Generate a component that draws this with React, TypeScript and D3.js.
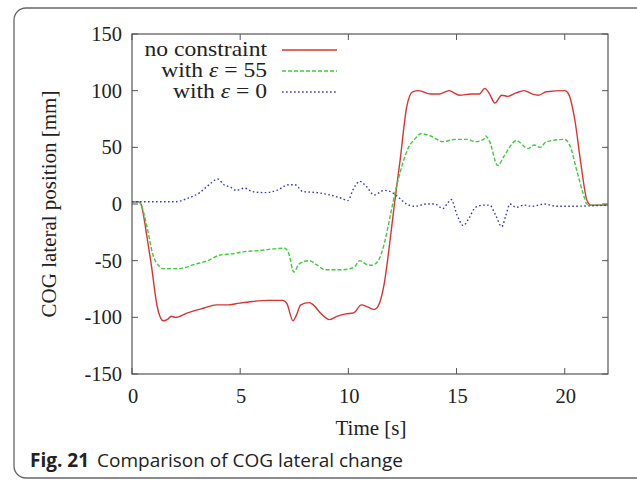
import React from "react";
import * as d3 from "d3";

const xTicks = [0, 5, 10, 15, 20];
const yTicks = [-150, -100, -50, 0, 50, 100, 150];

const seriesNames = ["no constraint", "with \u03b5 = 55", "with \u03b5 = 0"];

const redT = [0, 0.3, 0.41, 0.7, 0.88, 1.16, 1.44, 1.63, 1.82, 2.0, 2.57, 3.3, 3.9, 4.44, 4.8, 5.57, 6.3, 6.97, 7.16, 7.44, 7.6, 7.8, 8.19, 8.38, 8.75, 9.13, 9.5, 9.88, 10.25, 10.6, 10.9, 11.2, 11.38, 11.66, 11.94, 12.13, 12.4, 12.69, 12.97, 13.25, 13.8, 14.19, 14.65, 15.12, 15.69, 16.06, 16.3, 16.53, 16.77, 17.09, 17.37, 17.75, 18.12, 18.5, 18.78, 19.15, 20.0, 20.18, 20.46, 20.75, 21.03, 21.2, 22];
const redV = [2, 2, 0, -30, -52, -90, -103, -102, -99, -100, -96, -92, -89, -89, -88, -86, -85, -85, -88, -103, -98, -89, -87, -89, -97, -102, -99, -97, -96, -89, -91, -93, -90, -70, -30, 0, 40, 85, 99, 100, 97, 97, 100, 96, 97, 97, 102, 97, 89, 96, 95, 98, 100, 97, 96, 99, 100, 97, 75, 35, 3, -1, -1];

const greenT = [0, 0.3, 0.41, 0.69, 0.97, 1.26, 1.44, 2.19, 2.94, 3.5, 4.07, 4.63, 5.19, 5.94, 6.32, 7.07, 7.25, 7.48, 7.72, 8.19, 8.56, 8.94, 9.69, 10.25, 10.53, 10.81, 11.09, 11.38, 11.66, 11.94, 12.22, 12.5, 12.78, 13.06, 13.34, 13.81, 14.37, 14.94, 15.5, 15.87, 16.25, 16.34, 16.53, 16.9, 17.19, 17.56, 17.75, 18.31, 18.59, 18.87, 19.15, 20.0, 20.27, 20.55, 20.84, 21.03, 21.2, 22];
const greenV = [2, 2, 0, -20, -45, -55, -57, -57, -53, -50, -45, -44, -42, -41, -40, -39, -44, -60, -53, -50, -54, -58, -58, -56, -50, -53, -54, -50, -35, -10, 15, 35, 50, 57, 62, 60, 55, 57, 57, 55, 57, 60, 55, 34, 42, 53, 56, 49, 52, 50, 55, 57, 50, 30, 10, 0, -1, -1];

const blueT = [0, 0.41, 1.44, 2.0, 2.57, 3.13, 3.5, 3.97, 4.25, 4.54, 4.82, 5.19, 5.57, 6.13, 6.69, 7.25, 7.53, 7.9, 8.56, 9.13, 9.69, 9.97, 10.25, 10.53, 10.81, 11.19, 11.66, 11.94, 12.31, 12.69, 13.06, 13.62, 14.0, 14.37, 14.56, 14.75, 15.03, 15.31, 15.59, 15.87, 16.25, 16.53, 16.81, 17.09, 17.28, 17.47, 17.75, 18.12, 18.5, 19.06, 19.62, 20.18, 22];
const blueV = [2, 2, 2, 2, 5, 10, 16, 22, 17, 15, 12, 14, 11, 10, 12, 17, 17, 11, 10, 8, 5, 3, 14, 20, 16, 8, 12, 11, 6, 0, -2, 0, 0, -4, 0, 4, -10, -19, -12, -3, -1, -1, -10, -20, -10, 0, -3, -1, -2, 0, -2, -2, -1];

const colors = ["#d83434", "#3ccc3c", "#3a3ab8"];
const dashes = ["none", "4,2", "1.6,2.4"];

export default function App() {
  const W = 637, H = 480;
  const m = { l: 132, r: 608, t: 34, b: 374 };
  const x = d3.scaleLinear().domain([0, 22]).range([m.l, m.r]);
  const y = d3.scaleLinear().domain([-150, 150]).range([m.b, m.t]);
  const line = d3.line<[number, number]>().x(d => x(d[0])).y(d => y(d[1])).curve(d3.curveMonotoneX);
  const series: [number, number][][] = [
    redT.map((t, i) => [t, redV[i]]),
    greenT.map((t, i) => [t, greenV[i]]),
    blueT.map((t, i) => [t, blueV[i]]),
  ];
  const serif = "'Liberation Serif', 'DejaVu Serif', serif";
  const axisColor = "#555";
  const tl = 6;
  return (
    <svg width={W} height={H} style={{ position: "absolute", left: 0, top: 0, background: "#fff" }}>
      <rect x={14} y={8} width={640} height={470} rx={12} fill="#fff" stroke="#666" strokeWidth={1.3} />
      <defs>
        <clipPath id="pc"><rect x={m.l} y={m.t} width={m.r - m.l} height={m.b - m.t} /></clipPath>
      </defs>
      {xTicks.map(v => (
        <g key={"x" + v}>
          <line x1={x(v)} x2={x(v)} y1={m.b} y2={m.b - tl} stroke={axisColor} />
          <line x1={x(v)} x2={x(v)} y1={m.t} y2={m.t + tl} stroke={axisColor} />
          <text x={x(v) + 1} y={403} textAnchor="middle" fontFamily={serif} fontSize={20.5} fill="#222">{v}</text>
        </g>
      ))}
      {yTicks.map(v => (
        <g key={"y" + v}>
          <line x1={m.l} x2={m.l + tl} y1={y(v)} y2={y(v)} stroke={axisColor} />
          <line x1={m.r} x2={m.r - tl} y1={y(v)} y2={y(v)} stroke={axisColor} />
          <text x={122} y={y(v) + 7} textAnchor="end" fontFamily={serif} fontSize={20.5} fill="#222">{v}</text>
        </g>
      ))}
      <g clipPath="url(#pc)">
        {series.map((s, i) => (
          <path key={i} d={line(s) || ""} fill="none" stroke={colors[i]} strokeWidth={1.4} strokeDasharray={dashes[i]} />
        ))}
      </g>
      <rect x={m.l} y={m.t} width={m.r - m.l} height={m.b - m.t} fill="none" stroke={axisColor} strokeWidth={1.2} />
      {seriesNames.map((n, i) => (
        <g key={"lg" + i}>
          <text transform={`translate(267,${56 + i * 21}) scale(1.18,1)`} textAnchor="end" fontFamily={serif} fontSize={20} fill="#222">
            {n.split("\u03b5").map((part, k) => k === 0 ? <tspan key={k}>{part}</tspan> : <React.Fragment key={k}><tspan fontStyle="italic">{"\u03b5"}</tspan><tspan>{part}</tspan></React.Fragment>)}
          </text>
          <line x1={282} x2={337} y1={50 + i * 21} y2={50 + i * 21} stroke={colors[i]} strokeWidth={1.4} strokeDasharray={dashes[i]} />
        </g>
      ))}
      <text x={371} y={435} textAnchor="middle" fontFamily={serif} fontSize={21} fill="#222">Time [s]</text>
      <text transform={`translate(56,${(m.t + m.b) / 2}) rotate(-90)`} textAnchor="middle" fontFamily={serif} fontSize={21} fill="#222">COG lateral position [mm]</text>
      <text x={30} y={467} fontFamily="'Open Sans', 'Noto Sans', sans-serif" fontSize={19} fill="#222">
        <tspan fontWeight="bold">Fig. 21</tspan>
        <tspan dx={8}>Comparison of COG lateral change</tspan>
      </text>
    </svg>
  );
}
